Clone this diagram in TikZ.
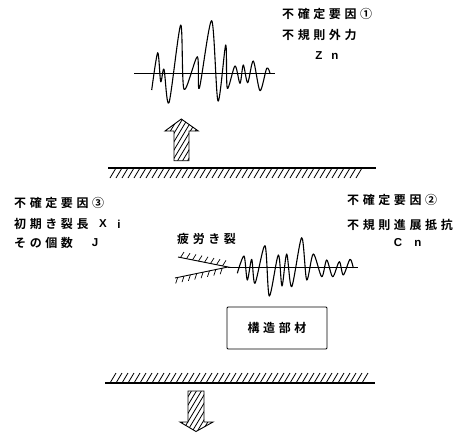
\documentclass[tikz,border=0pt]{standalone}
\usepackage{fontspec}
\newfontfamily\cjk[LetterSpace=30,BoldFont={Noto Sans CJK JP Bold}]{Noto Sans CJK JP}
\tikzset{
  x=1pt,y=-1pt,
  lbl/.style={inner sep=0pt,anchor=west,font=\cjk\fontsize{12}{13}\selectfont\bfseries},
  ltr/.style={inner sep=0pt,font=\fontspec{Liberation Sans}\fontsize{11.5}{12}\selectfont\bfseries},
  wave/.style={line width=1.1pt,smooth,tension=0.5,line join=round},
  axisline/.style={line width=0.9pt},
  ground/.style={line width=1.3pt},
  tick/.style={line width=0.7pt},
  bigarrow/.style={line width=0.9pt,line join=miter},
  hatchline/.style={line width=0.8pt}
}
\begin{document}
\begin{tikzpicture}
\useasboundingbox (0,0) rectangle (455,432);
% texts
\node[lbl] (t1a) at (282,14) {不確定要因①};
\node[lbl] (t1b) at (282,35) {不規則外力};
\node[ltr] (t1c) at (319,56) {Z};
\node[ltr] (t1d) at (335,56) {n};
\node[lbl] (t3a) at (14,203) {不確定要因③};
\node[lbl] (t3b) at (14,224) {初期き裂長};
\node[ltr] (t3c) at (103,224) {X};
\node[ltr] (t3d) at (119,224) {i};
\node[lbl] (t3e) at (14,243) {その個数};
\node[ltr] (t3f) at (95,243) {J};
\node[lbl] (t2a) at (347,200) {不確定要因②};
\node[lbl] (t2b) at (347,225) {不規則進展抵抗};
\node[ltr] (t2c) at (398,243) {C};
\node[ltr] (t2d) at (418,243) {n};
\node[lbl] (t4) at (177,239) {疲労き裂};
% box
\node[draw,line width=0.9pt,rounded corners=1pt,minimum width=100pt,minimum height=42pt,inner sep=0pt,font=\cjk\fontsize{12}{13}\selectfont\bfseries] (box) at (277,328) {構造部材};
% wave 1
\draw[axisline] (134,73) -- (275,73);
\draw[wave] plot coordinates {(151.7,90)(157.7,52.7)(160.7,81.7)(164,69.3)(169,102.7)(180.7,25)(184,89.3)(197.3,56.7)(199.3,88.3)(211.7,20.7)(218,101)(225.7,45)(227.3,88.3)(235,66)(240,83.3)(243.3,65)(247.7,82.7)(253.3,61)(260,90.7)(266.7,68.3)(270,73.3)};
% wave 2
\draw[axisline] (228,267) -- (358,267);
\draw[wave] plot coordinates {(237.3,273.3)(244,256)(247.3,280)(251.7,259.3)(255,283.3)(265,245.7)(269.3,296)(278.3,255)(282,286)(286.7,254)(291.7,286.7)(301.7,237.7)(306.7,280)(313.3,254)(321.7,276.7)(326.7,260)(332.7,276.7)(339.3,261.7)(343.3,275)(350,259.3)(353.3,268)};
% crack
\draw[axisline] (178,257) -- (228,267) -- (175,278);
\foreach \t in {0.05,0.17,...,0.95}{
  \draw[tick] ({178+50*\t},{257+10*\t}) -- ++(3.5,-5.5);
  \draw[tick] ({175+53*\t},{278-11*\t}) -- ++(-2,6);
}
% grounds
\draw[ground] (108,168) -- (376,168);
\foreach \x in {110,116,...,360} \draw[hatchline] (\x,178) -- ++(6,-10);
\draw[ground] (105,383) -- (375,383);
\foreach \x in {110,116,...,366} \draw[hatchline] (\x,383) -- ++(6,-10);
% arrows
\begin{scope}
\clip (174,160.7) -- (174,131) -- (165,131) -- (181.3,119) -- (198.3,131) -- (189,131) -- (189,160.7) -- cycle;
\foreach \k in {0,5,...,80} \draw[hatchline] ({130+\k},165) -- ++(30,-50);
\end{scope}
\begin{scope}
\clip (188,391) -- (188,422) -- (180,422) -- (196,431.5) -- (213,422) -- (204,422) -- (204,391) -- cycle;
\foreach \k in {0,5,...,70} \draw[hatchline] ({175+\k},385) -- ++(-30,50);
\end{scope}
\draw[bigarrow] (174,160.7) -- (174,131) -- (165,131) -- (181.3,119) -- (198.3,131) -- (189,131) -- (189,160.7) -- cycle;
\draw[bigarrow] (188,391) -- (188,422) -- (180,422) -- (196,431.5) -- (213,422) -- (204,422) -- (204,391) -- cycle;
\end{tikzpicture}
\end{document}
